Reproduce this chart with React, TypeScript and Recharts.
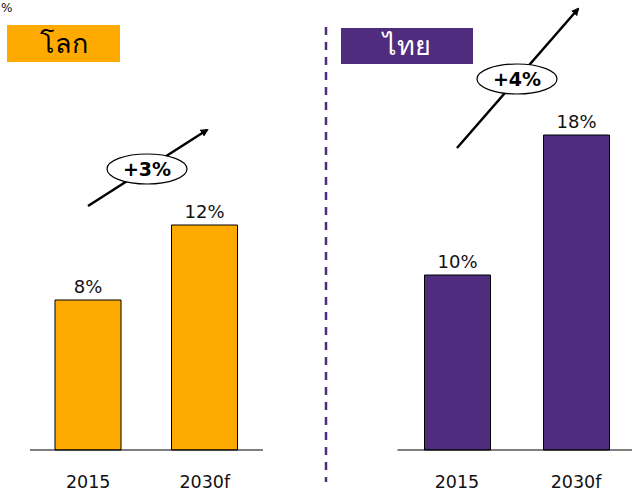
import React from "react";
import { BarChart, Bar, XAxis, YAxis, LabelList } from "recharts";

const years = ["2015", "2030f"];
const worldShare = [8, 12];
const thaiShare = [10, 18];
const worldGrowth = "+3%";
const thaiGrowth = "+4%";

const worldData = years.map((year, i) => ({ year, value: worldShare[i] }));
const thaiData = years.map((year, i) => ({ year, value: thaiShare[i] }));

const ORANGE = "#FFAA00";
const PURPLE = "#4F2C7E";
const FONT = "Tahoma, 'DejaVu Sans', sans-serif";

const tickStyle = { fontSize: 17.5, fill: "#111", fontFamily: FONT };
const fmt = (v: number) => `${v}%`;

const Panel: React.FC<{
  data: { year: string; value: number }[];
  color: string;
  width: number;
  margin: { top: number; right: number; left: number; bottom: number };
}> = ({ data, color, width, margin }) => (
  <BarChart width={width} height={495} data={data} margin={margin} barSize={66}>
    <XAxis
      dataKey="year"
      height={40}
      tickLine={false}
      tickSize={0}
      tickMargin={26}
      axisLine={{ stroke: "#000", strokeWidth: 1.2 }}
      tick={tickStyle}
    />
    <YAxis hide domain={[0, 20]} />
    <Bar dataKey="value" fill={color} stroke="#000" strokeWidth={1} isAnimationActive={false}>
      <LabelList
        dataKey="value"
        position="top"
        offset={7}
        formatter={fmt}
        style={{ fontSize: 18, fill: "#111", fontFamily: FONT }}
      />
    </Bar>
  </BarChart>
);

const Growth: React.FC<{ x1: number; y1: number; x2: number; y2: number; cx: number; cy: number; label: string; id: string }> = ({
  x1, y1, x2, y2, cx, cy, label, id,
}) => (
  <g>
    <defs>
      <marker id={id} markerWidth="8" markerHeight="8" refX="6" refY="4" orient="auto" markerUnits="userSpaceOnUse">
        <path d="M0,0 L8,4 L0,8 z" fill="#000" />
      </marker>
    </defs>
    <line x1={x1} y1={y1} x2={x2} y2={y2} stroke="#000" strokeWidth={2.5} markerEnd={`url(#${id})`} />
    <ellipse cx={cx} cy={cy} rx={40} ry={15} fill="#fff" stroke="#000" strokeWidth={1.2} />
    <text x={cx} y={cy + 7} textAnchor="middle" fontFamily={FONT} fontWeight="bold" fontSize={19} fill="#000">
      {label}
    </text>
  </g>
);

export default function App() {
  return (
    <div
      style={{
        position: "absolute",
        left: 0,
        top: 0,
        width: 632,
        height: 495,
        overflow: "hidden",
        background: "#fff",
        fontFamily: FONT,
      }}
    >
      <div style={{ position: "absolute", left: 0, top: 0 }}>
        <Panel data={worldData} color={ORANGE} width={326} margin={{ top: 75, right: 63, left: 30, bottom: 5 }} />
      </div>
      <div style={{ position: "absolute", left: 326, top: 0 }}>
        <Panel data={thaiData} color={PURPLE} width={312} margin={{ top: 100, right: 2.5, left: 71.5, bottom: 5 }} />
      </div>

      <svg width={632} height={495} style={{ position: "absolute", left: 0, top: 0, pointerEvents: "none" }}>
        <line x1={326} y1={27} x2={326} y2={482} stroke={PURPLE} strokeWidth={2.5} strokeDasharray="8 7" />
        <Growth id="arrW" x1={88} y1={206} x2={207} y2={130} cx={147} cy={169} label={worldGrowth} />
        <Growth id="arrT" x1={457} y1={148} x2={578} y2={9} cx={517} cy={79} label={thaiGrowth} />
      </svg>

      <div style={{ position: "absolute", left: 1, top: 1, fontSize: 12, lineHeight: "14px", color: "#111" }}>%</div>

      <div
        style={{
          position: "absolute",
          left: 7,
          top: 25,
          width: 113,
          height: 37,
          background: ORANGE,
          color: "#000",
          fontSize: 27,
          lineHeight: "37px",
          textAlign: "center",
        }}
      >
        โลก
      </div>
      <div
        style={{
          position: "absolute",
          left: 341,
          top: 28,
          width: 132,
          height: 36,
          background: PURPLE,
          color: "#fff",
          fontSize: 27,
          lineHeight: "36px",
          textAlign: "center",
        }}
      >
        ไทย
      </div>
    </div>
  );
}
